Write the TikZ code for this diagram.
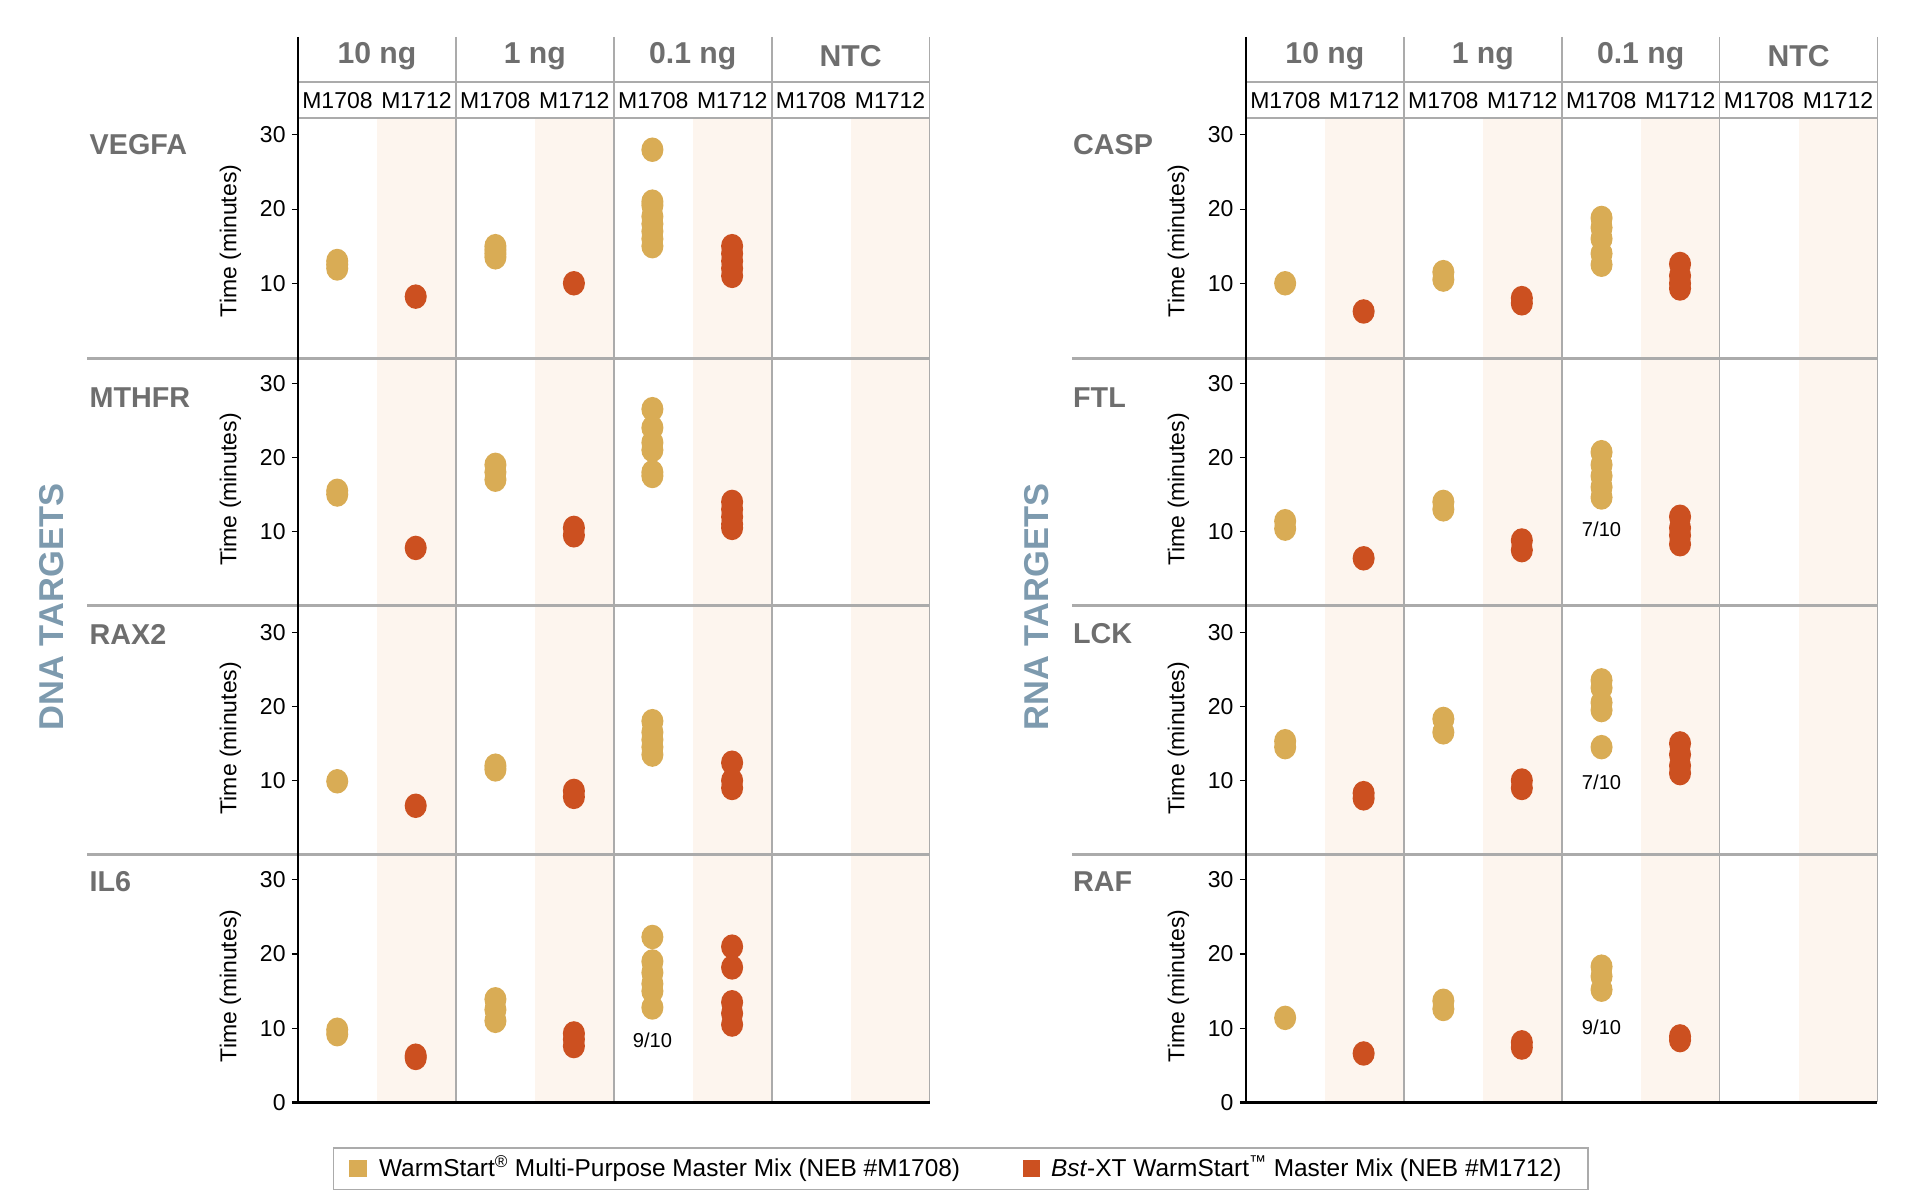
\documentclass[tikz,border=0pt]{standalone}
\usepackage{fontspec}
\setmainfont{Liberation Sans}
\definecolor{gold}{HTML}{D9AC55}
\definecolor{rust}{HTML}{CC5020}
\definecolor{bandc}{HTML}{FDF5EE}
\definecolor{hdr}{HTML}{6E6E6E}
\definecolor{tgt}{HTML}{7D9AAE}
\definecolor{sep}{HTML}{ABABAB}
\newcommand{\fsz}[1]{\fontsize{#1pt}{#1pt}\selectfont}
\begin{document}
\begin{tikzpicture}[x=0.3mm,y=-0.3mm,
  grp/.style={font=\fsz{21}\bfseries,text=hdr},
  sub/.style={font=\fsz{16}},
  rowl/.style={font=\fsz{20}\bfseries,text=hdr,anchor=west},
  tick/.style={font=\fsz{16},anchor=east},
  ylab/.style={font=\fsz{16},rotate=90},
  note/.style={font=\fsz{14}},
  tg/.style={font=\fsz{24}\bfseries,text=tgt,rotate=90}]
\useasboundingbox (0,0) rectangle (1560,978);
\newcommand{\pts}[4]{% x, y0, color, list
  \foreach \v in {#4} {\fill[#3] (#1,{#2-6.05*\v}) ellipse (9 and 10);}}
\newcommand{\panel}[3]{% x0 of axis, x left of separators, name
  \begin{scope}[shift={(#1,0)}]
  \foreach \g in {0,1,2,3} \fill[bandc] ({64.4+128.75*\g},96) rectangle ({128.75*(\g+1)},899);
  \foreach \g in {1,2,3,4} \draw[sep,line width=1.2pt] ({128.75*\g},30) -- ({128.75*\g},899);
  \draw[sep,line width=1.5pt] (0,67) -- (515,67);
  \draw[sep,line width=1.5pt] (0,96) -- (515,96);
  \foreach \y in {292,494,697} \draw[sep,line width=2pt] (#2-#1,\y) -- (515,\y);
  \foreach \t [count=\i from 0] in {10 ng,1 ng,0.1 ng,NTC}
    \node[grp] (#3g\i) at ({64.4+128.75*\i},46) {\t};
  \foreach \i in {0,1,2,3} {
    \node[sub] (#3a\i) at ({32.2+128.75*\i},82) {M1708};
    \node[sub] (#3b\i) at ({96.6+128.75*\i},82) {M1712};}
  \foreach \yz [count=\r] in {291.5,494,697,899} {
    \foreach \v in {10,20,30} {
      \draw[line width=0.8pt] (-5,{\yz-6.05*\v}) -- (0,{\yz-6.05*\v});
      \node[tick] (#3t\r\v) at (-6,{\yz-6.05*\v}) {\v};}
    \node[ylab] (#3y\r) at (-55,{\yz-95}) {Time (minutes)};}
  \draw[line width=0.8pt] (-5,899) -- (0,899);
  \node[tick] (#3t0) at (-6,899) {0};
  \draw[line width=1pt] (0,30) -- (0,899);
  \draw[line width=2pt] (-5,899) -- (515,899);
  \end{scope}}
\panel{243}{71}{L}
\panel{1016}{874}{R}
% labels
\node[rowl] (vegfa) at (69,118) {VEGFA};
\node[rowl] (mthfr) at (69,324) {MTHFR};
\node[rowl] (rax) at (69,517) {RAX2};
\node[rowl] (il) at (69,719) {IL6};
\node[rowl] (casp) at (871,118) {CASP};
\node[rowl] (ftl) at (871,324) {FTL};
\node[rowl] (lck) at (871,517) {LCK};
\node[rowl] (raf) at (871,719) {RAF};
\node[tg] (dna) at (42,495) {DNA TARGETS};
\node[tg] (rna) at (845,495) {RNA TARGETS};
% DNA data
\pts{275}{291.5}{gold}{12,12.5,13}
\pts{339}{291.5}{rust}{8.2}
\pts{404}{291.5}{gold}{13.5,14,14.5,15}
\pts{468}{291.5}{rust}{10}
\pts{532}{291.5}{gold}{28,21,20.5,19,18,17,16,15}
\pts{597}{291.5}{rust}{15,14,13,12,11}
\pts{275}{494}{gold}{15,15.5}
\pts{339}{494}{rust}{7.8}
\pts{404}{494}{gold}{17,18,19}
\pts{468}{494}{rust}{9.5,10.5}
\pts{532}{494}{gold}{26.5,24,22,21,18,17.5}
\pts{597}{494}{rust}{14,13,12,11,10.5}
\pts{275}{697}{gold}{9.9}
\pts{339}{697}{rust}{6.6}
\pts{404}{697}{gold}{11.5,12}
\pts{468}{697}{rust}{7.8,8.6}
\pts{532}{697}{gold}{18,16.5,15.5,14.5,13.5}
\pts{597}{697}{rust}{12.4,10,9}
\pts{275}{899}{gold}{9.2,9.8}
\pts{339}{899}{rust}{6,6.3}
\pts{404}{899}{gold}{11,12.5,13.9}
\pts{468}{899}{rust}{7.6,8.5,9.3}
\pts{532}{899}{gold}{22.3,19,17.5,16,15,12.8}
\pts{597}{899}{rust}{21,18.2,13.5,12,10.5}
\node[note] (n1) at (532,848) {9/10};
% RNA data
\pts{1048}{291.5}{gold}{10}
\pts{1112}{291.5}{rust}{6.2}
\pts{1177}{291.5}{gold}{10.5,11.5}
\pts{1241}{291.5}{rust}{7.3,8}
\pts{1306}{291.5}{gold}{18.8,17.5,16,14,12.5}
\pts{1370}{291.5}{rust}{12.6,11,10,9.3}
\pts{1048}{494}{gold}{10.4,11.4}
\pts{1112}{494}{rust}{6.4}
\pts{1177}{494}{gold}{13,14}
\pts{1241}{494}{rust}{7.5,8.8}
\pts{1306}{494}{gold}{20.7,19,17.5,16,14.6}
\pts{1370}{494}{rust}{12,10.5,9.5,8.3}
\node[note] (n2) at (1306,432) {7/10};
\pts{1048}{697}{gold}{14.5,15.3}
\pts{1112}{697}{rust}{7.6,8.3}
\pts{1177}{697}{gold}{16.5,18.3}
\pts{1241}{697}{rust}{9,10}
\pts{1306}{697}{gold}{23.5,22.5,20.5,19.5,14.5}
\pts{1370}{697}{rust}{15,13.5,12,11}
\node[note] (n3) at (1306,638) {7/10};
\pts{1048}{899}{gold}{11.4}
\pts{1112}{899}{rust}{6.6}
\pts{1177}{899}{gold}{12.6,13.7}
\pts{1241}{899}{rust}{7.4,8.1}
\pts{1306}{899}{gold}{18.3,17,15.2}
\pts{1370}{899}{rust}{8.4,8.9}
\node[note] (n4) at (1306,838) {9/10};
% legend
\draw[sep,line width=1pt] (272,936) rectangle (1295,970);
\fill[gold] (285,946) rectangle (299,960);
\fill[rust] (834,946) rectangle (848,960);
\node[font=\fsz{17},anchor=west] (l1) at (305,953) {WarmStart\textsuperscript{®} Multi-Purpose Master Mix (NEB \#M1708)};
\node[font=\fsz{17},anchor=west] (l2) at (853,953) {\textit{Bst}-XT WarmStart\textsuperscript{™} Master Mix (NEB \#M1712)};
\end{tikzpicture}
\end{document}
